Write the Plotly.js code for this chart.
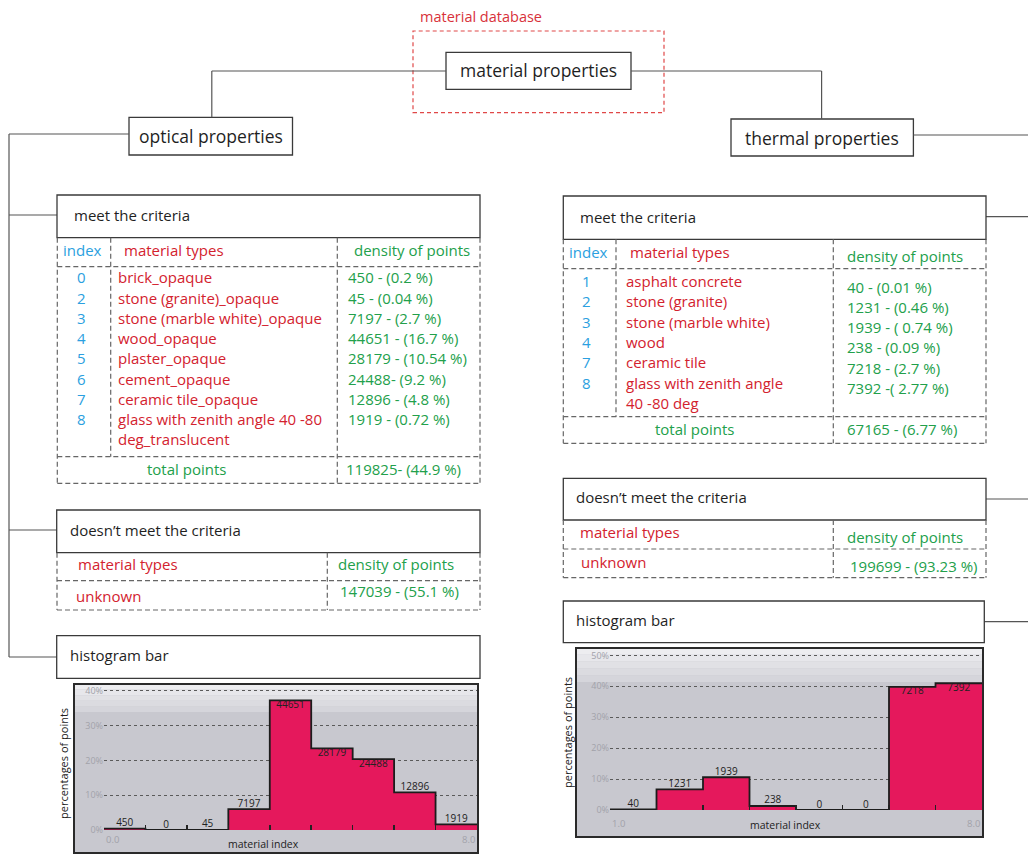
<!DOCTYPE html>
<html><head><meta charset="utf-8">
<script src="https://cdn.plot.ly/plotly-3.0.1.min.js"></script>
<style>html,body{margin:0;padding:0;background:#fff}</style>
</head><body><div id="chart" style="width:1028px;height:854px"></div>
<script>
// ---------------- data ----------------
const optIndex = ['0','2','3','4','5','6','7','8'];
const optTypes = ['brick_opaque','stone (granite)_opaque','stone (marble white)_opaque','wood_opaque','plaster_opaque','cement_opaque','ceramic tile_opaque','glass with zenith angle 40 -80','deg_translucent'];
const optDensity = ['450 - (0.2 %)','45 - (0.04 %)','7197 - (2.7 %)','44651 - (16.7 %)','28179 - (10.54 %)','24488- (9.2 %)','12896 - (4.8 %)','1919 - (0.72 %)'];
const optTotal = '119825- (44.9 %)';
const optUnknown = '147039 - (55.1 %)';

const thIndex = ['1','2','3','4','7','8'];
const thTypes = ['asphalt concrete','stone (granite)','stone (marble white)','wood','ceramic tile','glass with zenith angle','40 -80 deg'];
const thDensity = ['40 - (0.01 %)','1231 - (0.46 %)','1939 - ( 0.74 %)','238 - (0.09 %)','7218 - (2.7 %)','7392 -( 2.77 %)'];
const thTotal = '67165 - (6.77 %)';
const thUnknown = '199699 - (93.23 %)';

const optHistIndex = [0,1,2,3,4,5,6,7,8];
const optHistCounts = [450,0,45,7197,44651,28179,24488,12896,1919];
const optHistPct = [0.4,0,0.04,6.0,37.3,23.5,20.4,10.8,1.6];

const thHistIndex = [1,2,3,4,5,6,7,8];
const thHistCounts = [40,1231,1939,238,0,0,7218,7392];
const thHistPct = [0.2,6.7,10.6,1.3,0,0,39.8,41.0];

const optYTicks = [0,10,20,30,40];
const optYTickText = ['0%','10%','20%','30%','40%'];
const thYTicks = [0,10,20,30,40,50];
const thYTickText = ['0%','10%','20%','30%','40%','50%'];

// ---------------- helpers ----------------
const W = 1028, H = 854;
const PX = x => x / W, PY = y => 1 - y / H;
const FONT = 'Open Sans, Noto Sans, sans-serif';
const RED = '#d3222e', GREEN = '#22a04b', BLUE = '#2b9fe0', DARK = '#1f1f1f';
const shapes = [], ann = [];

function box(x0, y0, x1, y1) {
  shapes.push({type:'rect', xref:'paper', yref:'paper', x0:PX(x0), x1:PX(x1), y0:PY(y1), y1:PY(y0),
    line:{color:'#3a3a3a', width:1.3}, fillcolor:'rgba(0,0,0,0)', layer:'above'});
}
function line(x0, y0, x1, y1, color, dash, w) {
  shapes.push({type:'line', xref:'paper', yref:'paper', x0:PX(x0), x1:PX(x1), y0:PY(y0), y1:PY(y1),
    line:{color:color || '#555', width:w || 1.2, dash:dash || 'solid'}, layer:'above'});
}
function dl(x0, y0, x1, y1) { line(x0, y0, x1, y1, '#666', '5px,3px', 1.2); }
function T(x, y, text, color, size, anchor) {
  ann.push({xref:'paper', yref:'paper', x:PX(x), y:PY(y), text:text, showarrow:false,
    xanchor:anchor || 'left', yanchor:'middle', font:{family:FONT, size:size || 15, color:color || DARK}});
}
function rectFill(x0, y0, x1, y1, color) {
  shapes.push({type:'rect', xref:'paper', yref:'paper', x0:PX(x0), x1:PX(x1), y0:PY(y1), y1:PY(y0),
    line:{width:0}, fillcolor:color, layer:'below'});
}

// ---------------- top of tree ----------------
shapes.push({type:'rect', xref:'paper', yref:'paper', x0:PX(413), x1:PX(664), y0:PY(112.7), y1:PY(31),
  line:{color:'#e04848', width:1.2, dash:'4px,3px'}, fillcolor:'rgba(0,0,0,0)', layer:'above'});
T(481, 16, 'material database', '#d8313a', 14.5, 'center');
box(446, 52.3, 631, 89.3); T(538.5, 70, 'material properties', DARK, 17.5, 'center');
box(129, 117.3, 292.5, 155); T(211, 136, 'optical properties', DARK, 17.5, 'center');
box(731, 119, 913.4, 156); T(822, 137.5, 'thermal properties', DARK, 17.5, 'center');
line(446, 71, 211.8, 71); line(211.8, 71, 211.8, 117.3);
line(631, 71, 821.6, 71); line(821.6, 71, 821.6, 119);
line(129, 134, 9, 134); line(9, 134, 9, 657);
line(9, 215, 57, 215); line(9, 530, 57, 530); line(9, 657, 57, 657);
line(913.4, 135, 1028, 135); line(986, 216.7, 1028, 216.7);
line(986, 499, 1028, 499); line(984.3, 621.7, 1028, 621.7);

// ---------------- optical: meet the criteria ----------------
box(57, 195, 480, 237.7); T(72, 215, 'meet the criteria');
dl(57.3, 237.7, 57.3, 483.3); dl(480, 237.7, 480, 483.3);
dl(110.7, 237.7, 110.7, 456.7); dl(337.3, 237.7, 337.3, 483.3);
dl(57.3, 266.7, 480, 266.7); dl(57.3, 456.7, 480, 456.7); dl(57.3, 483.3, 480, 483.3);
T(82.5, 250, 'index', BLUE, 15, 'center'); T(122, 250, 'material types', RED); T(352, 250, 'density of points', GREEN);
optIndex.forEach((v, i) => T(81.7, 277.3 + 20.25 * i, v, BLUE, 15, 'center'));
optTypes.forEach((v, i) => T(116, 277.3 + 20.25 * i, v, RED));
optDensity.forEach((v, i) => T(345.5, 277.3 + 20.25 * i, v, GREEN));
T(186, 469.3, 'total points', GREEN, 15, 'center'); T(344, 469.3, optTotal, GREEN);

// optical: doesn't meet
box(56.7, 510, 480, 552.7); T(68, 530, 'doesn\u2019t meet the criteria');
dl(57, 552.7, 57, 610); dl(327.3, 552.7, 327.3, 610); dl(480, 552.7, 480, 610);
dl(57, 580.7, 480, 580.7); dl(57, 610, 480, 610);
T(76, 564, 'material types', RED); T(336, 564, 'density of points', GREEN);
T(74, 595.7, 'unknown', RED); T(337.5, 591, optUnknown, GREEN);
box(56.7, 635.7, 480, 678.3); T(68, 655, 'histogram bar');

// ---------------- thermal: meet the criteria ----------------
box(563.3, 196, 986, 239.3); T(577.5, 216.7, 'meet the criteria');
dl(563.3, 239.3, 563.3, 443.3); dl(986, 239.3, 986, 443.3);
dl(616, 239.3, 616, 416.7); dl(833.3, 239.3, 833.3, 443.3);
dl(563.3, 268.7, 986, 268.7); dl(563.3, 416.7, 986, 416.7); dl(563.3, 443.3, 986, 443.3);
T(588, 251.7, 'index', BLUE, 15, 'center'); T(627.5, 251.7, 'material types', RED); T(845, 255.7, 'density of points', GREEN);
thIndex.forEach((v, i) => T(586.7, 281 + 20.3 * i, v, BLUE, 15, 'center'));
thTypes.forEach((v, i) => T(623.5, 281 + 20.3 * i, v, RED));
thDensity.forEach((v, i) => T(845, 286.7 + 20.2 * i, v, GREEN));
T(694, 429, 'total points', GREEN, 15, 'center'); T(845, 429, thTotal, GREEN);

box(563.3, 478.3, 986, 520); T(573.5, 496.7, 'doesn\u2019t meet the criteria');
dl(563.3, 520, 563.3, 577.7); dl(833.3, 520, 833.3, 577.7); dl(986, 520, 986, 577.7);
dl(563.3, 549, 986, 549); dl(563.3, 577.7, 986, 577.7);
T(577.5, 532.3, 'material types', RED); T(845, 536.7, 'density of points', GREEN);
T(578.5, 561.7, 'unknown', RED); T(847.5, 565.7, thUnknown, GREEN);
box(563.3, 601, 984.3, 642.7); T(573.5, 620, 'histogram bar');

// ---------------- histogram frames ----------------
function frame(x0, y0, x1, y1, bandEnd) {
  rectFill(x0, y0, x1, y1, '#c8c8cf');
  const cols = ['#ededf0', '#e7e7eb', '#e1e1e5', '#dbdbe0', '#d5d5db'];
  const step = (bandEnd - y0) / cols.length;
  cols.forEach((c, i) => rectFill(x0, y0 + i * step, x1, y0 + (i + 1) * step, c));
  shapes.push({type:'rect', xref:'paper', yref:'paper', x0:PX(x0), x1:PX(x1), y0:PY(y1), y1:PY(y0),
    line:{color:'#2a2a2a', width:2}, fillcolor:'rgba(0,0,0,0)', layer:'above'});
}
frame(74, 684, 478, 853, 712);
frame(576, 648, 983, 837, 682);

// ---------------- histogram traces ----------------
const BAR = '#e5185c';
function histTraces(idx, pct, counts, xa, ya) {
  const edgesX = idx.map(v => v - 0.5).concat([idx[idx.length - 1] + 0.5]);
  const edgesY = pct.concat([pct[pct.length - 1]]);
  return [
    {type:'bar', x:idx, y:pct, width:1, marker:{color:BAR, line:{width:0}}, xaxis:xa, yaxis:ya, hoverinfo:'skip', showlegend:false},
    {type:'scatter', mode:'lines', x:edgesX, y:edgesY, line:{shape:'hv', color:'#1c1c1c', width:1.8}, xaxis:xa, yaxis:ya, hoverinfo:'skip', showlegend:false},
    {type:'scatter', mode:'text', x:idx, y:pct, text:counts.map(String),
      textposition:pct.map(p => p > 15 ? 'bottom center' : 'top center'),
      textfont:{family:FONT, size:10, color:'#222'}, xaxis:xa, yaxis:ya, hoverinfo:'skip', showlegend:false}
  ];
}
const data = histTraces(optHistIndex, optHistPct, optHistCounts, 'x', 'y')
  .concat(histTraces(thHistIndex, thHistPct, thHistCounts, 'x2', 'y2'));

function xAxis(idx, x0, x1, ya) {
  return {domain:[PX(x0), PX(x1)], range:[idx[0] - 0.5, idx[idx.length - 1] + 0.5], anchor:ya,
    showgrid:false, zeroline:false, showline:false, ticks:'inside', ticklen:5, tickwidth:1.5, tickcolor:'#222',
    tickmode:'array', tickvals:idx.slice(1).map(v => v - 0.5), showticklabels:false, fixedrange:true};
}
function yAxis(ticks, labels, yb, yt, top, xa) {
  return {domain:[PY(yb), PY(yt)], range:[0, top], anchor:xa, tickmode:'array', tickvals:ticks, ticktext:labels,
    tickfont:{family:FONT, size:9, color:'#a2a2aa'}, showgrid:true, gridcolor:'#5a5a5a', griddash:'dot', gridwidth:1,
    zeroline:false, showline:false, ticks:'', fixedrange:true};
}

// histogram axis labels
ann.push({xref:'x', yref:'paper', x:-0.5, y:PY(839), text:'0.0', showarrow:false, xanchor:'left', yanchor:'middle',
  font:{family:FONT, size:9.5, color:'#a2a2aa'}});
ann.push({xref:'x', yref:'paper', x:8.5, y:PY(839), text:'8.0', showarrow:false, xanchor:'right', yanchor:'middle',
  font:{family:FONT, size:9.5, color:'#a2a2aa'}});
ann.push({xref:'x2', yref:'paper', x:0.5, y:PY(823), text:'1.0', showarrow:false, xanchor:'left', yanchor:'middle',
  font:{family:FONT, size:9.5, color:'#a2a2aa'}});
ann.push({xref:'x2', yref:'paper', x:8.5, y:PY(823), text:'8.0', showarrow:false, xanchor:'right', yanchor:'middle',
  font:{family:FONT, size:9.5, color:'#a2a2aa'}});
T(263, 844, 'material index', '#222', 10.5, 'center');
T(785, 825, 'material index', '#222', 10.5, 'center');
ann.push({xref:'paper', yref:'paper', x:PX(63), y:PY(764), text:'percentages of points', textangle:-90, showarrow:false,
  xanchor:'center', yanchor:'middle', font:{family:FONT, size:11, color:'#222'}});
ann.push({xref:'paper', yref:'paper', x:PX(567), y:PY(733), text:'percentages of points', textangle:-90, showarrow:false,
  xanchor:'center', yanchor:'middle', font:{family:FONT, size:11, color:'#222'}});

const layout = {
  width:W, height:H, margin:{l:0, r:0, t:0, b:0},
  paper_bgcolor:'#ffffff', plot_bgcolor:'rgba(0,0,0,0)',
  showlegend:false, barmode:'overlay', bargap:0,
  xaxis:xAxis(optHistIndex, 104, 477, 'y'),
  yaxis:yAxis(optYTicks, optYTickText, 830, 684, 42, 'x'),
  xaxis2:xAxis(thHistIndex, 610, 982, 'y2'),
  yaxis2:yAxis(thYTicks, thYTickText, 810, 648, 52.4, 'x2'),
  shapes:shapes, annotations:ann
};
Plotly.newPlot('chart', data, layout, {displayModeBar:false, staticPlot:true});
</script></body></html>
